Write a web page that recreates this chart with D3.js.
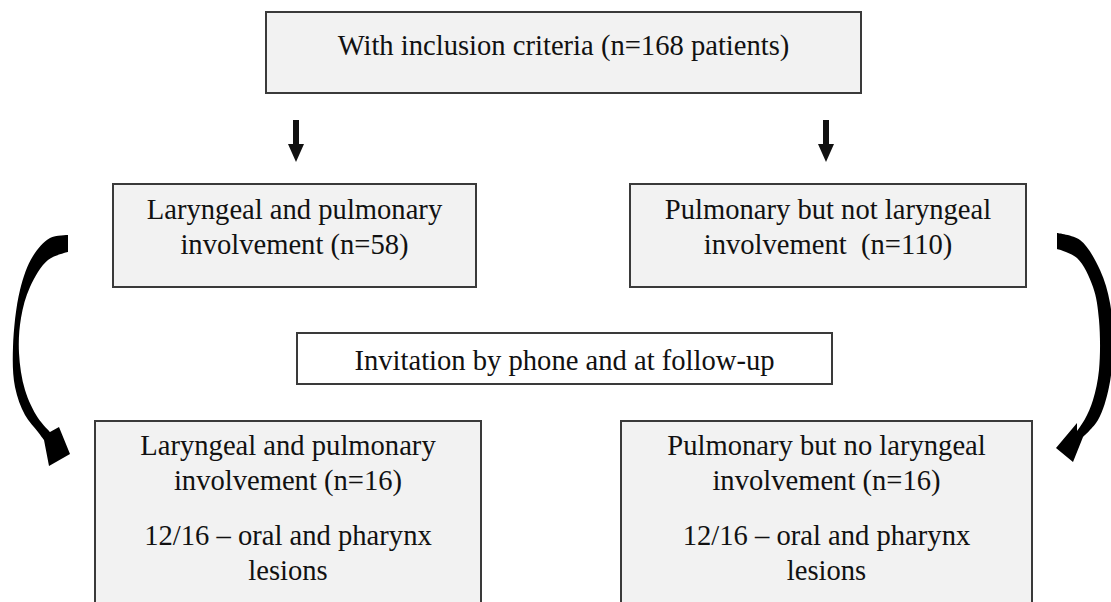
<!DOCTYPE html>
<html>
<head>
<meta charset="utf-8">
<script src="https://cdn.jsdelivr.net/npm/d3@7"></script>
<style>
  body { margin: 0; background: #fff; }
  svg { display: block; }
</style>
</head>
<body>
<svg id="chart" width="1111" height="602"></svg>
<script>
// flowchart content
var boxIds = ["top", "midLeft", "midRight", "invite", "botLeft", "botRight"];
var boxLines = [
    ["With inclusion criteria (n=168 patients)"],
    ["Laryngeal and pulmonary", "involvement (n=58)"],
    ["Pulmonary but not laryngeal", "involvement  (n=110)"],
    ["Invitation by phone and at follow-up"],
    ["Laryngeal and pulmonary", "involvement (n=16)", "", "12/16 \u2013 oral and pharynx", "lesions"],
    ["Pulmonary but no laryngeal", "involvement (n=16)", "", "12/16 \u2013 oral and pharynx", "lesions"]
];

// layout (pixels)
var layout = {
    top:      {x0: 266, x1: 861,  y0: 12,  y1: 93,  fill: "#f2f2f2", base: 55},
    midLeft:  {x0: 113, x1: 476,  y0: 184, y1: 287, fill: "#f2f2f2", base: 219},
    midRight: {x0: 630, x1: 1026, y0: 184, y1: 287, fill: "#f2f2f2", base: 219},
    invite:   {x0: 297, x1: 832,  y0: 333, y1: 384, fill: "#ffffff", base: 370},
    botLeft:  {x0: 95,  x1: 481,  y0: 421, y1: 620, fill: "#f2f2f2", base: 455},
    botRight: {x0: 621, x1: 1032, y0: 421, y1: 620, fill: "#f2f2f2", base: 455}
};
var lineStep = 35, gapStep = 20;
var serif = "'Liberation Serif', 'Times New Roman', Times, serif";

var svg = d3.select("#chart");

var boxes = svg.selectAll("g.box")
    .data(boxIds)
    .enter()
    .append("g")
    .attr("class", "box");

boxes.append("rect")
    .attr("x", function(d){ return layout[d].x0; })
    .attr("y", function(d){ return layout[d].y0; })
    .attr("width", function(d){ return layout[d].x1 - layout[d].x0; })
    .attr("height", function(d){ return layout[d].y1 - layout[d].y0; })
    .style("fill", function(d){ return layout[d].fill; })
    .style("stroke", "#3a3a3a")
    .style("stroke-width", 2);

boxes.each(function(d, i){
    var g = d3.select(this), L = layout[d], y = L.base;
    boxLines[i].forEach(function(t){
        if (t === "") { y += gapStep; return; }
        g.append("text")
            .attr("x", (L.x0 + L.x1) / 2)
            .attr("y", y)
            .attr("text-anchor", "middle")
            .attr("font-family", serif)
            .attr("font-size", 28.6)
            .attr("fill", "#111")
            .style("white-space", "pre")
            .text(t);
        y += lineStep;
    });
});

// straight down arrows
var downArrows = [296, 826];
downArrows.forEach(function(x){
    var p = d3.path();
    p.moveTo(x - 3, 120); p.lineTo(x + 3, 120); p.lineTo(x + 3, 144);
    p.lineTo(x + 8, 144); p.lineTo(x, 162); p.lineTo(x - 8, 144);
    p.lineTo(x - 3, 144); p.closePath();
    svg.append("path").attr("d", p.toString()).style("fill", "#111");
});

// curved block arrows (outer edge, head, then inner edge back up)
var curveLeftOuter = [[68,235],[50,238],[33,256],[20,290],[13,347],[15,387],[25,415],[38,432],[44,440]];
var curveLeftHead  = [[49,466],[70,454],[59,427]];
var curveLeftInner = [[50,432],[38,418],[25,390],[19,353],[21,318],[30,287],[48,260],[68,252]];

var curveRightOuter = [[1057,233],[1080,240],[1100,270],[1110,303],[1113,345],[1109,387],[1098,420],[1083,437]];
var curveRightHead  = [[1073,462],[1056,448],[1077,423]];
var curveRightInner = [[1077,431],[1085,419],[1093,400],[1099,370],[1099,320],[1093,287],[1077,258],[1057,249]];

var smooth = d3.line().curve(d3.curveCatmullRom.alpha(0.5));

function blockArrow(outer, head, inner){
    var d = smooth(outer) + head.map(function(p){ return "L" + p[0] + "," + p[1]; }).join("")
        + "L" + inner[0][0] + "," + inner[0][1]
        + smooth(inner).replace(/^M[^C]*/, "") + "Z";
    svg.append("path").attr("d", d).style("fill", "#000");
}
blockArrow(curveLeftOuter, curveLeftHead, curveLeftInner);
blockArrow(curveRightOuter, curveRightHead, curveRightInner);
</script>
</body>
</html>
